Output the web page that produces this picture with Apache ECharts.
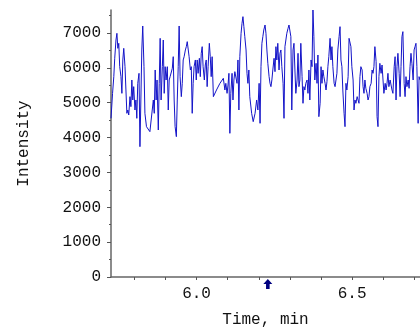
<!DOCTYPE html>
<html>
<head>
<meta charset="utf-8">
<script src="https://cdn.jsdelivr.net/npm/echarts@6/dist/echarts.min.js"></script>
<style>html,body{margin:0;padding:0;background:#fff;}#c{width:420px;height:335px;}</style>
</head>
<body>
<div id="c"></div>
<script>
const timeMin = [
  5.725, 5.730, 5.734, 5.737, 5.741, 5.744, 5.747, 5.750, 5.753, 5.757,
  5.760, 5.763, 5.766, 5.770, 5.773, 5.776, 5.779, 5.782, 5.786, 5.789,
  5.792, 5.795, 5.798, 5.802, 5.805, 5.808, 5.811, 5.815, 5.818, 5.821,
  5.824, 5.827, 5.831, 5.834, 5.839, 5.850, 5.856, 5.861, 5.864, 5.867,
  5.870, 5.873, 5.877, 5.880, 5.883, 5.886, 5.890, 5.893, 5.896, 5.899,
  5.902, 5.906, 5.909, 5.912, 5.915, 5.919, 5.922, 5.925, 5.928, 5.931,
  5.935, 5.938, 5.941, 5.944, 5.947, 5.951, 5.954, 5.957, 5.960, 5.964,
  5.967, 5.970, 5.973, 5.976, 5.980, 5.983, 5.986, 5.989, 5.992, 5.996,
  5.999, 6.002, 6.005, 6.009, 6.012, 6.015, 6.018, 6.021, 6.025, 6.028,
  6.031, 6.034, 6.037, 6.041, 6.044, 6.047, 6.050, 6.054, 6.064, 6.075,
  6.086, 6.091, 6.094, 6.098, 6.101, 6.104, 6.107, 6.110, 6.114, 6.117,
  6.120, 6.123, 6.126, 6.130, 6.133, 6.136, 6.139, 6.143, 6.146, 6.149,
  6.152, 6.155, 6.159, 6.162, 6.165, 6.168, 6.171, 6.177, 6.182, 6.188,
  6.193, 6.197, 6.201,
  6.204, 6.207, 6.210, 6.213, 6.216, 6.220, 6.223, 6.226, 6.229, 6.233,
  6.236, 6.239, 6.242, 6.245, 6.249, 6.252, 6.255, 6.258, 6.261, 6.265,
  6.268, 6.271, 6.274, 6.278, 6.281, 6.284, 6.287, 6.290, 6.294, 6.297,
  6.300, 6.303, 6.306, 6.310, 6.313, 6.316, 6.319, 6.323, 6.326, 6.329,
  6.332, 6.335, 6.339, 6.342, 6.345, 6.348, 6.351, 6.355, 6.358, 6.361,
  6.364, 6.368, 6.371, 6.374, 6.377, 6.380, 6.384, 6.387, 6.390, 6.393,
  6.397, 6.400, 6.403, 6.406, 6.409, 6.413, 6.416, 6.419, 6.422, 6.425,
  6.429, 6.432, 6.435, 6.438, 6.442, 6.445, 6.448, 6.451, 6.454, 6.458,
  6.461, 6.464, 6.467, 6.470, 6.474, 6.477, 6.480, 6.483, 6.487, 6.490,
  6.493, 6.496, 6.499, 6.503, 6.506, 6.509, 6.512, 6.516, 6.519, 6.522,
  6.525, 6.528, 6.532, 6.535, 6.538, 6.541, 6.544, 6.548, 6.551, 6.554,
  6.557, 6.561, 6.564, 6.567, 6.570, 6.573, 6.577, 6.580, 6.583, 6.586,
  6.589, 6.593, 6.596, 6.599, 6.602, 6.606, 6.609, 6.612, 6.615, 6.618,
  6.622, 6.625, 6.628, 6.631, 6.635, 6.638, 6.641, 6.644, 6.647, 6.651,
  6.654, 6.657, 6.660, 6.663, 6.667, 6.670, 6.673, 6.676, 6.680, 6.683,
  6.686, 6.689, 6.692, 6.696, 6.699, 6.702, 6.705, 6.708, 6.712, 6.715,
  6.718
];
const intensity = [
  4552, 5269, 5748, 6274, 6799, 6991, 6560, 6704, 6034, 5748,
  5269, 6226, 6560, 6034, 5365, 4696, 4791, 4648, 5174, 4887,
  5652, 5078, 5461, 4791, 5078, 4552, 5556, 5843, 3739, 5078,
  6513, 7201, 6034, 4696, 4313, 4170, 4122, 5078, 4696, 5939,
  5078, 5652, 4217, 5556, 6847, 5078, 6034, 6799, 5269, 6034,
  5652, 6034, 4791, 5652, 5748, 5795, 5987, 6321, 5078, 4313,
  4026, 5078, 6034, 7201, 5748, 5174, 5556, 6226, 6321, 6513,
  6608, 6752, 6752, 6321, 5939, 6034, 4696, 5556, 6034, 6226,
  5652, 6226, 5843, 6274, 5748, 6417, 6608, 6034, 5652, 6082,
  6226, 5461, 6034, 6704, 6321, 5748, 6321, 5174, 5365, 5556,
  5700, 5365, 5556, 5269, 5508, 5843, 4122, 5269, 5843, 5078,
  5652, 5891, 5939, 5556, 6226, 4791, 6321, 6991, 7278, 7469,
  7182, 6895, 6513, 5843, 5556, 5939, 5174, 4696, 4457, 4696,
  5078, 4791, 5556,
  4409, 6034, 6704, 6895, 7086, 7230, 6991, 6513, 6130, 5748,
  5556, 5461, 5652, 5939, 6274, 5891, 6608, 6226, 6704, 5939,
  6417, 6513, 6034, 5556, 4552, 6608, 6799, 6991, 7134, 7230,
  7278, 6895, 4791, 6513, 6704, 5939, 5269, 5652, 6417, 5461,
  5652, 6704, 5748, 4983, 5461, 5365, 5556, 5652, 5269, 5939,
  5078, 6226, 6034, 7660, 6895, 5652, 6130, 5556, 6369, 4600,
  4983, 6034, 5556, 5939, 5748, 5556, 5365, 5604, 6034, 6321,
  6847, 6226, 6608, 6034, 5556, 5461, 5652, 5843, 6513, 6895,
  7182, 6226, 6034, 5365, 4696, 4313, 5556, 5365, 5748, 6847,
  6799, 6608, 6034, 5652, 4791, 5078, 4983, 5174, 5078, 4983,
  5748, 6034, 5939, 5461, 5269, 5652, 5413, 5269, 5078, 5174,
  5461, 5556, 5939, 5843, 6034, 6608, 6178, 4600, 4313, 5748,
  6130, 5843, 6082, 6034, 5269, 5556, 5365, 5556, 5843, 5461,
  5652, 5508, 5365, 5269, 6034, 6321, 5078, 6034, 6417, 5843,
  5174, 6034, 6895, 7039, 5556, 5174, 5748, 5461, 5652, 5413,
  6034, 6417, 6130, 5652, 6513, 6608, 6704, 6034, 4409, 5748,
  5652
];
const xTickValues = [5.8, 5.9, 6.0, 6.1, 6.2, 6.3, 6.4, 6.5, 6.6, 6.7];
const xLabelValues = [6.0, 6.5];
const yTickValues = [0, 1000, 2000, 3000, 4000, 5000, 6000, 7000];
const markerTime = [6.229];

const FONT = '"Liberation Mono", "DejaVu Sans Mono", monospace';
const seriesData = timeMin.map((t, i) => [t, intensity[i]]);

const chart = echarts.init(document.getElementById('c'), null, {renderer: 'canvas'});
chart.setOption({
  animation: false,
  backgroundColor: '#ffffff',
  grid: {left: 111, right: 0, top: 10, bottom: 58},
  xAxis: {
    type: 'value',
    min: 5.725, max: 6.718,
    name: 'Time, min',
    nameLocation: 'middle',
    nameGap: 35,
    nameTextStyle: {fontFamily: FONT, fontSize: 16, color: '#111'},
    axisLine: {show: true, onZero: false, lineStyle: {color: '#666', width: 1.5}},
    axisTick: {show: true, inside: false, length: 3, customValues: xTickValues, lineStyle: {color: '#555'}},
    axisLabel: {customValues: xLabelValues, margin: 9, fontFamily: FONT, fontSize: 16, color: '#111',
      formatter: v => Number(v).toFixed(1)},
    splitLine: {show: false}
  },
  yAxis: {
    type: 'value',
    min: 0, max: 7660, interval: 1000,
    name: 'Intensity',
    nameLocation: 'middle',
    nameGap: 79,
    nameTextStyle: {fontFamily: FONT, fontSize: 16, color: '#111'},
    axisLine: {show: true, lineStyle: {color: '#666', width: 1.5}},
    axisTick: {show: true, length: 4, customValues: yTickValues, lineStyle: {color: '#555'}},
    minorTick: {show: true, splitNumber: 2, length: 2, lineStyle: {color: '#555'}},
    axisLabel: {customValues: yTickValues, margin: 10, fontFamily: FONT, fontSize: 16, color: '#111',
      formatter: v => String(Math.round(v))},
    splitLine: {show: false},
    minorSplitLine: {show: false}
  },
  series: [{
    type: 'line',
    data: seriesData,
    showSymbol: false,
    symbol: 'none',
    lineStyle: {color: '#1414c8', width: 1},
    markPoint: {
      symbol: 'path://M5 0 L10 5 L7 5 L7 10 L3 10 L3 5 L0 5 Z',
      symbolSize: [9, 10],
      symbolOffset: [0, 7],
      itemStyle: {color: '#000080'},
      label: {show: false},
      data: markerTime.map(t => ({coord: [t, 0]}))
    }
  }]
});
</script>
</body>
</html>
